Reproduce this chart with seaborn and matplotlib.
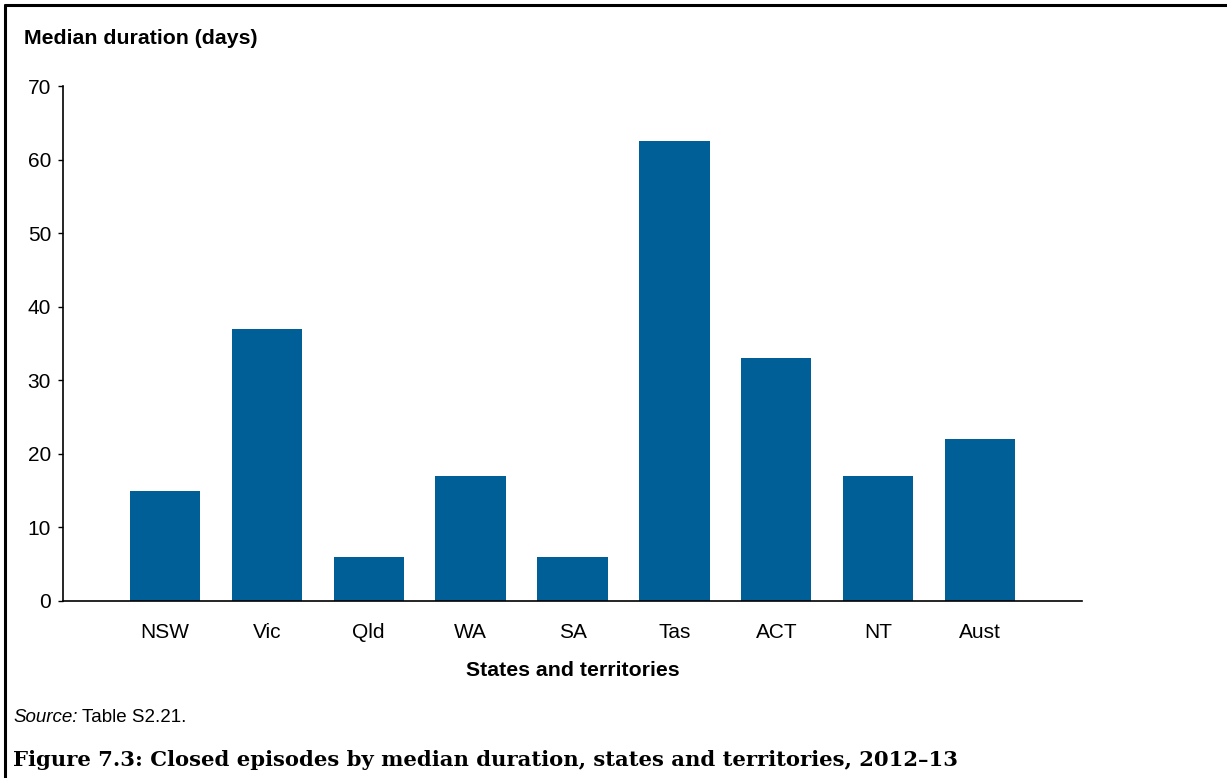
import matplotlib
matplotlib.use("Agg")
import matplotlib.pyplot as plt
import seaborn as sns
import pandas as pd
from matplotlib.lines import Line2D

states = ["NSW", "Vic", "Qld", "WA", "SA", "Tas", "ACT", "NT", "Aust"]
median_days = [15, 37, 6, 17, 6, 62.5, 33, 17, 22]
y_ticks = [0, 10, 20, 30, 40, 50, 60, 70]

sns.set_theme(style="white")
plt.rcParams["font.family"] = ["Liberation Sans", "DejaVu Sans"]

df = pd.DataFrame({"state": states, "days": median_days})

W, H = 1227, 778
fig = plt.figure(figsize=(W / 100, H / 100), dpi=100)
ax = fig.add_axes([63 / W, 1 - 601 / H, (1082 - 63) / W, (601 - 86) / H])

sns.barplot(data=df, x="state", y="days", color="#005f96", saturation=1,
            width=0.69, ax=ax, edgecolor="none")

ax.set_xlim(-1, len(states))
ax.set_ylim(0, 70)
ax.set_yticks(y_ticks)
ax.tick_params(axis="y", direction="out", length=3.6, width=1, color="black",
               pad=5, labelsize=15, labelcolor="black", left=True)
ax.tick_params(axis="x", length=0, pad=15.5, labelsize=15, labelcolor="black")
for side in ("top", "right"):
    ax.spines[side].set_visible(False)
for side in ("left", "bottom"):
    ax.spines[side].set_color("black")
    ax.spines[side].set_linewidth(1.2)
ax.set_xlabel("")
ax.set_ylabel("")

fig.text(24 / W, 1 - 38 / H, "Median duration (days)", fontsize=15.3,
         fontweight="bold", va="center", ha="left", color="black")
fig.text(573 / W, 1 - 670 / H, "States and territories", fontsize=15.3,
         fontweight="bold", va="center", ha="center", color="black")

# source note: italic label followed by the table reference
src = fig.text(13 / W, 1 - 718 / H, "Source:", fontsize=13.5, style="italic",
               va="center", ha="left", color="black")
fig.canvas.draw()
bb = src.get_window_extent()
fig.text((bb.x1 + 4) / W, 1 - 718 / H, "Table S2.21.", fontsize=13.5,
         va="center", ha="left", color="black")

fig.text(13 / W, 1 - 760 / H,
         "Figure 7.3: Closed episodes by median duration, states and territories, 2012\u201313",
         fontsize=15.2, fontweight="bold", family=["DejaVu Serif"],
         va="center", ha="left", color="black")

# frame along the top and left edges
fig.add_artist(Line2D([5 / W, 1], [1 - 5 / H, 1 - 5 / H], color="black",
                      linewidth=2.2, transform=fig.transFigure))
fig.add_artist(Line2D([5 / W, 5 / W], [0, 1 - 5 / H], color="black",
                      linewidth=2.2, transform=fig.transFigure))

fig.savefig("out.png", dpi=100, facecolor="white")
